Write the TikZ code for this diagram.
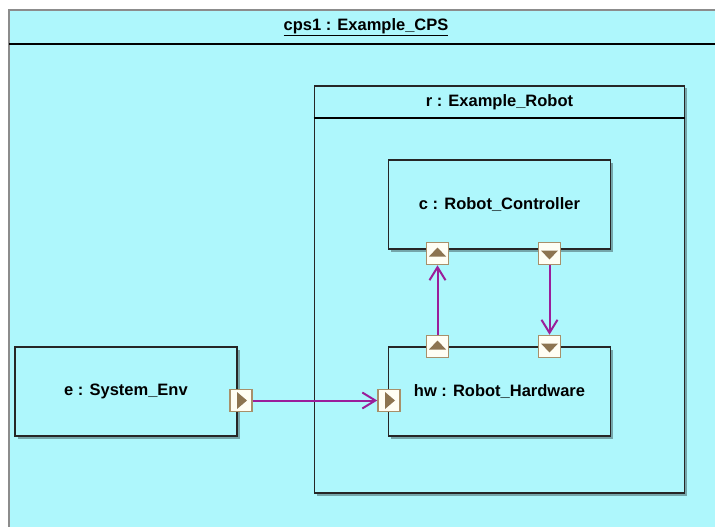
\documentclass[tikz,border=0pt]{standalone}
\usepackage{fontspec}
\setmainfont{Liberation Sans}
\definecolor{cpsbg}{HTML}{AEF7FC}
\definecolor{portline}{HTML}{A8906A}
\definecolor{portfill}{HTML}{FFFEF4}
\definecolor{portmark}{HTML}{8C7450}
\definecolor{flowpurple}{HTML}{9A1E9A}
\definecolor{shadowgrey}{HTML}{5E8488}
\usetikzlibrary{positioning, arrows.meta, shadows}

\begin{document}
\begin{tikzpicture}[x=1pt, y=-1pt,
  part/.style={draw=black!85, fill=cpsbg, line width=1.7pt,
               minimum width=222pt, minimum height=89pt, align=center,
               font=\fontsize{16.5}{19}\selectfont\bfseries,
               drop shadow={shadow xshift=2.5pt, shadow yshift=-2.5pt,
                            fill=shadowgrey, opacity=0.7}},
  outerpart/.style={draw=black!85, fill=cpsbg, line width=1.7pt,
               minimum width=370pt, minimum height=407pt,
               drop shadow={shadow xshift=2.5pt, shadow yshift=-2.5pt,
                            fill=shadowgrey, opacity=0.7}},
  ptitle/.style={font=\fontsize{16.5}{19}\selectfont\bfseries},
  headline/.style={line width=2pt, black},
  port/.style={draw=portline, fill=portfill, line width=1.6pt,
               minimum size=22pt, inner sep=0pt},
  portup/.style={port, path picture={\fill[portmark]
      ([xshift=-8.5pt,yshift=-3pt]path picture bounding box.center) --
      ([xshift=8.5pt,yshift=-3pt]path picture bounding box.center) --
      ([yshift=6pt]path picture bounding box.center) -- cycle;}},
  portdown/.style={port, path picture={\fill[portmark]
      ([xshift=-8.5pt,yshift=3pt]path picture bounding box.center) --
      ([xshift=8.5pt,yshift=3pt]path picture bounding box.center) --
      ([yshift=-6pt]path picture bounding box.center) -- cycle;}},
  portright/.style={port, path picture={\fill[portmark]
      ([xshift=-4pt,yshift=8.5pt]path picture bounding box.center) --
      ([xshift=-4pt,yshift=-8.5pt]path picture bounding box.center) --
      ([xshift=6pt]path picture bounding box.center) -- cycle;}},
  flow/.style={draw=flowpurple, line width=2pt,
               -{Straight Barb[length=13pt, width=16pt]}},
]
\clip (0,0) rectangle (715,527);
\fill[white] (0,0) rectangle (715,527);

\draw[fill=cpsbg, draw=black!45, line width=1.2pt] (9,10) rectangle (740,560);
\draw[headline] (9,44) -- (740,44);
\node[ptitle] (cpstitle) at (366,27) {\underline{cps1 : Example\_CPS}};

\node[outerpart] (robot) at (499.5,289.5) {};
\draw[headline] ([yshift=-33pt]robot.north west) -- ([yshift=-33pt]robot.north east);
\node[ptitle] (robottitle) at (499.5,102) {r : Example\_Robot};

\node[part] (ctrl) at (499.5,204.5) {c : Robot\_Controller};
\node[part] (hw) at (499.5,391.5) {hw : Robot\_Hardware};
\node[part] (env) at (126,391.5) {e : System\_Env};

\node[portup] (ctrlin) at (437.5,253.5) {};
\node[portdown] (ctrlout) at (549.5,253.5) {};
\node[portup] (hwout) at (437.5,346.5) {};
\node[portdown] (hwin) at (549.5,346.5) {};
\node[portright] (envout) at (241,400.5) {};
\node[portright] (hwenv) at (389,400.5) {};

\draw[flow] (hwout) -- (ctrlin);
\draw[flow] (ctrlout) -- (hwin);
\draw[flow] (envout) -- (hwenv);
\end{tikzpicture}
\end{document}
